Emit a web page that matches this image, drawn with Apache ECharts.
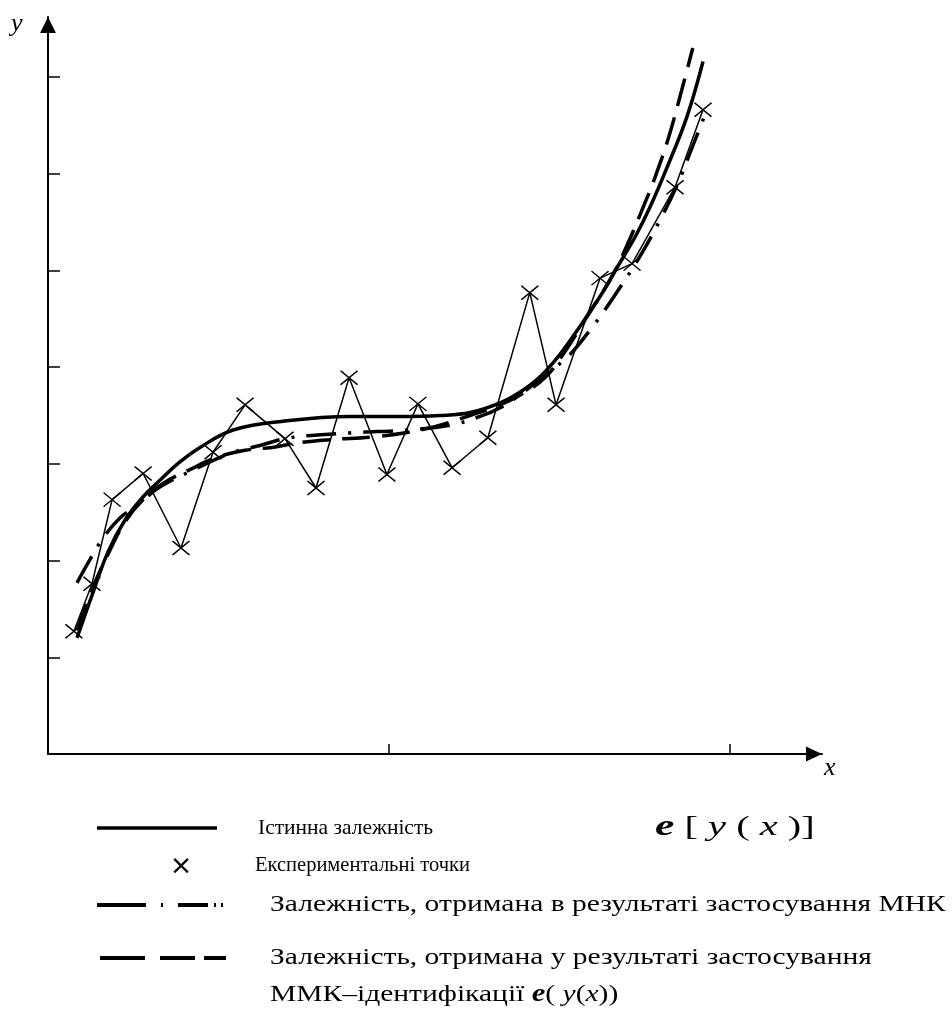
<!DOCTYPE html>
<html>
<head>
<meta charset="utf-8">
<script src="https://cdn.jsdelivr.net/npm/echarts@6/dist/echarts.min.js"></script>
<style>
html,body{margin:0;padding:0;background:#fff;}
#chart{width:952px;height:1016px;}
</style>
</head>
<body>
<div id="chart"></div>
<script>
//поділки осей
var xTicks = [1,2];
var yTicks = [1,2,3,4,5,6,7];
//істинна залежність
var trueX = [0.085,0.129,0.176,0.226,0.279,0.328,0.387,0.446,0.543,0.689,0.886,1.032,1.150,1.238,1.326,1.384,1.443,1.501,1.560,1.619,1.669,1.721,1.765,1.815,1.874,1.921];
var trueY = [1.20,1.64,2.09,2.42,2.66,2.83,3.02,3.17,3.35,3.44,3.49,3.49,3.50,3.53,3.63,3.74,3.90,4.13,4.42,4.73,5.03,5.34,5.65,6.06,6.59,7.16];
//експериментальні точки
var expX = [0.076,0.129,0.188,0.279,0.390,0.484,0.578,0.695,0.786,0.883,0.994,1.085,1.185,1.290,1.413,1.490,1.619,1.713,1.839,1.921];
var expY = [1.27,1.76,2.63,2.90,2.13,3.12,3.61,3.26,2.75,3.89,2.89,3.62,2.96,3.27,4.77,3.61,4.92,5.07,5.86,6.66];
//МНК
var mnkX = [0.085,0.123,0.161,0.211,0.261,0.328,0.446,0.534,0.622,0.710,0.886,1.056,1.179,1.267,1.326,1.390,1.457,1.525,1.589,1.633,1.677,1.730,1.795,1.845,1.889,1.935];
var mnkY = [1.77,2.01,2.23,2.44,2.57,2.76,2.97,3.11,3.19,3.27,3.32,3.35,3.40,3.49,3.58,3.73,3.92,4.11,4.38,4.59,4.82,5.11,5.52,5.88,6.27,6.68];
//ММК-ідентифікація
var mmkX = [0.085,0.129,0.182,0.226,0.279,0.343,0.416,0.490,0.578,0.657,0.739,0.827,0.959,1.062,1.150,1.238,1.311,1.384,1.457,1.516,1.589,1.648,1.692,1.751,1.780,1.818,1.853,1.891];
var mmkY = [1.28,1.70,2.11,2.40,2.63,2.81,2.94,3.06,3.14,3.17,3.22,3.25,3.28,3.33,3.40,3.50,3.59,3.71,3.89,4.16,4.57,4.90,5.21,5.70,5.96,6.35,6.79,7.30];

function pairs(xs, ys){
	var out = [];
	for(var i=0;i<xs.length;i++){
		out.push([xs[i], ys[i]]);
	}
	return out;
}

var serif = '"Liberation Serif", "DejaVu Serif", serif';
var chart = echarts.init(document.getElementById('chart'));

var lineAxis = {
	show : true,
	onZero : false,
	symbol : ['none','triangle'],
	symbolOffset : [0,-8],
	lineStyle : {color:'#000', width:2}
};

var option = {
	animation : false,
	backgroundColor : '#fff',
	grid : {left:48, right:130, top:17, bottom:262, containLabel:false},
	xAxis : {
		type : 'value',
		min : 0,
		max : 2.27,
		interval : 1,
		axisLabel : {show:false},
		splitLine : {show:false},
		axisTick : {show:true, inside:true, length:10, customValues:xTicks, lineStyle:{color:'#000', width:1.5}},
		axisLine : echarts.util.extend({symbolSize:[15,16]}, lineAxis)
	},
	yAxis : {
		type : 'value',
		min : 0,
		max : 7.62,
		interval : 1,
		axisLabel : {show:false},
		splitLine : {show:false},
		axisTick : {show:true, inside:true, length:12, customValues:yTicks, lineStyle:{color:'#000', width:1.5}},
		axisLine : echarts.util.extend({symbolSize:[16,16]}, lineAxis)
	},
	series : [
		{
			name : 'exp',
			type : 'line',
			data : pairs(expX, expY),
			symbol : 'path://M0,0L16,13M16,0L0,13',
			symbolSize : [17,14],
			itemStyle : {color:'#000', borderColor:'#000', borderWidth:1.5},
			lineStyle : {color:'#000', width:1.5}
		},
		{
			name : 'true',
			type : 'line',
			smooth : 0.4,
			showSymbol : false,
			data : pairs(trueX, trueY),
			lineStyle : {color:'#000', width:3.5}
		},
		{
			name : 'mnk',
			type : 'line',
			smooth : 0.4,
			showSymbol : false,
			data : pairs(mnkX, mnkY),
			lineStyle : {color:'#000', width:3.5, type:[30,12,3,12]}
		},
		{
			name : 'mmk',
			type : 'line',
			smooth : 0.4,
			showSymbol : false,
			data : pairs(mmkX, mmkY),
			lineStyle : {color:'#000', width:3.5, type:[28,12]}
		}
	],
	graphic : [
		//підписи осей
		{type:'text', left:11, top:11, style:{text:'y', font:'italic 26px ' + serif, fill:'#000'}},
		{type:'text', left:824, top:755, style:{text:'x', font:'italic 26px ' + serif, fill:'#000'}},
		//легенда
		{type:'line', shape:{x1:97, y1:828, x2:217, y2:828}, style:{stroke:'#000', lineWidth:3.5}},
		{type:'text', x:181, y:867, style:{text:'×', font:'27px "DejaVu Sans", sans-serif', fill:'#000', align:'center', verticalAlign:'middle'}},
		{type:'line', shape:{x1:97, y1:905, x2:223, y2:905}, style:{stroke:'#000', lineWidth:4, lineDash:[49,15,2,15,30,6,2,5,2,60]}},
		{type:'line', shape:{x1:100, y1:958, x2:226, y2:958}, style:{stroke:'#000', lineWidth:4, lineDash:[45,15,35,9,22,60]}},
		{type:'text', x:258, y:828, style:{text:'Істинна залежність', font:'21.5px ' + serif, fill:'#000', verticalAlign:'middle'}},
		{type:'text', x:255, y:866, style:{text:'Експериментальні точки', font:'20.5px ' + serif, fill:'#000', verticalAlign:'middle'}},
		{type:'text', x:270, y:905, scaleX:1.23, style:{text:'Залежність, отримана в результаті застосування МНК', font:'24px ' + serif, fill:'#000', verticalAlign:'middle'}},
		{type:'text', x:270, y:958, scaleX:1.23, style:{text:'Залежність, отримана у результаті застосування', font:'24px ' + serif, fill:'#000', verticalAlign:'middle'}},
		{type:'text', x:270, y:995, scaleX:1.23, style:{
			text:'ММК–ідентифікації {b|e}( {i|y}({i|x}))',
			font:'24px ' + serif, fill:'#000', verticalAlign:'middle',
			rich:{
				b:{fontFamily:serif, fontSize:25, fontWeight:'bold', fontStyle:'italic'},
				i:{fontFamily:serif, fontSize:24, fontStyle:'italic'}
			}
		}},
		{type:'text', x:655, y:828, scaleX:1.5, style:{
			text:'{b|e} [ {i|y} ( {i|x} )]',
			font:'27px ' + serif, fill:'#000', verticalAlign:'middle',
			rich:{
				b:{fontFamily:serif, fontSize:29, fontWeight:'bold', fontStyle:'italic'},
				i:{fontFamily:serif, fontSize:27, fontStyle:'italic'}
			}
		}}
	]
};
chart.setOption(option);
</script>
</body>
</html>
